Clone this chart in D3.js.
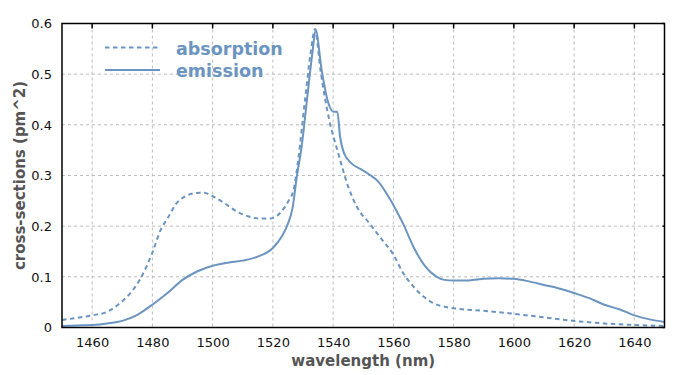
<!DOCTYPE html>
<html>
<head>
<meta charset="utf-8">
<script src="https://cdn.jsdelivr.net/npm/d3@7"></script>
<style>
  body { margin: 0; background: #fff; }
  svg { display: block; font-family: "DejaVu Sans", Verdana, sans-serif; }
</style>
</head>
<body>
<svg width="700" height="375"></svg>
<script>
// absorption cross-section (dashed)
const absWl = [1450, 1455, 1460, 1465, 1470, 1473, 1476, 1480, 1483, 1485, 1488, 1491, 1494, 1497, 1500,
  1504, 1508, 1512, 1516, 1519, 1521, 1523, 1525, 1527, 1528.5, 1530.5, 1532.5, 1534, 1535.8, 1538.7,
  1541.7, 1545, 1548, 1552, 1556, 1560, 1563.3, 1566.6, 1570, 1573.3, 1577, 1580, 1590, 1600, 1610,
  1620, 1630, 1640, 1650];
const absVal = [0.015, 0.019, 0.024, 0.031, 0.052, 0.070, 0.096, 0.148, 0.196, 0.215, 0.245, 0.259, 0.265, 0.266, 0.259,
  0.245, 0.229, 0.219, 0.215, 0.215, 0.219, 0.230, 0.248, 0.275, 0.335, 0.44, 0.54, 0.589, 0.508, 0.41,
  0.344, 0.278, 0.237, 0.206, 0.175, 0.144, 0.107, 0.081, 0.061, 0.048, 0.041, 0.038, 0.033, 0.027, 0.020,
  0.013, 0.008, 0.005, 0.003];

// emission cross-section (solid)
const emWl = [1450, 1455, 1460, 1465, 1470, 1475, 1480, 1485, 1490, 1495, 1500, 1505, 1510, 1515, 1520,
  1523, 1525, 1526.5, 1528, 1529.5, 1531.2, 1533.1, 1534.2, 1536.2, 1538.4, 1540.1, 1541.4, 1542.3, 1543.6,
  1546.1, 1549, 1552, 1555, 1558, 1560, 1563.3, 1566.6, 1570.5, 1574.4, 1577, 1580, 1585, 1590, 1595,
  1600, 1605, 1610, 1615, 1620, 1625, 1630, 1635, 1640, 1645, 1650];
const emVal = [0.003, 0.004, 0.005, 0.008, 0.013, 0.025, 0.045, 0.068, 0.094, 0.111, 0.122, 0.128, 0.132, 0.140, 0.157,
  0.180, 0.205, 0.235, 0.30, 0.355, 0.443, 0.541, 0.587, 0.508, 0.443, 0.426, 0.426, 0.377, 0.344,
  0.324, 0.313, 0.302, 0.288, 0.262, 0.242, 0.204, 0.16, 0.121, 0.100, 0.094, 0.093, 0.093, 0.096, 0.097,
  0.096, 0.091, 0.084, 0.077, 0.068, 0.058, 0.045, 0.036, 0.024, 0.016, 0.011];

const xTicks = [1460, 1480, 1500, 1520, 1540, 1560, 1580, 1600, 1620, 1640];
const yTicks = [0, 0.1, 0.2, 0.3, 0.4, 0.5, 0.6];
const legendLabels = ['absorption', 'emission'];

function draw() {
  const svg = d3.select('svg');
  const margin = { top: 23.5, right: 35.5, bottom: 47.5, left: 62 };
  const width = 700 - margin.left - margin.right;
  const height = 375 - margin.top - margin.bottom;
  const blue = '#6b95c0';

  const x = d3.scaleLinear().domain([1450, 1650]).range([0, width]);
  const y = d3.scaleLinear().domain([0, 0.6]).range([height, 0]);

  const g = svg.append('g').attr('transform', `translate(${margin.left},${margin.top})`);

  // grid
  g.append('g')
    .selectAll('line')
    .data(xTicks)
    .join('line')
    .attr('x1', d => x(d)).attr('x2', d => x(d))
    .attr('y1', 0).attr('y2', height)
    .attr('stroke', '#bdbdbd')
    .attr('stroke-dasharray', '3,3');
  g.append('g')
    .selectAll('line')
    .data(yTicks.filter(d => d > 0 && d < 0.6))
    .join('line')
    .attr('x1', 0).attr('x2', width)
    .attr('y1', d => y(d)).attr('y2', d => y(d))
    .attr('stroke', '#bdbdbd')
    .attr('stroke-dasharray', '3,3');

  // curves
  const line = d3.line()
    .x(d => x(d[0]))
    .y(d => y(d[1]))
    .curve(d3.curveMonotoneX);

  g.append('path')
    .datum(absWl.map((w, i) => [w, absVal[i]]))
    .attr('d', line)
    .attr('fill', 'none')
    .attr('stroke', blue)
    .attr('stroke-width', 2)
    .attr('stroke-dasharray', '4.5,3.5');

  g.append('path')
    .datum(emWl.map((w, i) => [w, emVal[i]]))
    .attr('d', line)
    .attr('fill', 'none')
    .attr('stroke', blue)
    .attr('stroke-width', 2);

  // axes
  const xAxis = g.append('g')
    .attr('transform', `translate(0,${height})`)
    .call(d3.axisBottom(x).tickValues(xTicks).tickSize(0).tickPadding(10).tickFormat(d3.format('d')));
  xAxis.select('.domain').remove();
  xAxis.selectAll('text').attr('font-size', 13).attr('fill', '#111').attr('font-family', '"DejaVu Sans", sans-serif');

  const yAxis = g.append('g')
    .call(d3.axisLeft(y).tickValues(yTicks).tickSize(0).tickPadding(10)
      .tickFormat(d => d === 0 ? '0' : d3.format('.1f')(d)));
  yAxis.select('.domain').remove();
  yAxis.selectAll('text').attr('font-size', 13).attr('fill', '#111').attr('font-family', '"DejaVu Sans", sans-serif');

  // inward ticks on the frame
  g.append('g').selectAll('line').data(xTicks).join('line')
    .attr('x1', d => x(d)).attr('x2', d => x(d))
    .attr('y1', 0).attr('y2', 5)
    .attr('stroke', '#000').attr('stroke-width', 1.5);
  g.append('g').selectAll('line').data(yTicks).join('line')
    .attr('x1', width - 2).attr('x2', width)
    .attr('y1', d => y(d)).attr('y2', d => y(d))
    .attr('stroke', '#000').attr('stroke-width', 1.5);

  // frame
  g.append('rect')
    .attr('width', width).attr('height', height)
    .attr('fill', 'none')
    .attr('stroke', '#000')
    .attr('stroke-width', 1.5);

  // axis titles
  svg.append('text')
    .attr('x', margin.left + width / 2)
    .attr('y', 366)
    .attr('text-anchor', 'middle')
    .attr('font-size', 15)
    .attr('font-weight', 'bold')
    .attr('fill', '#555')
    .text('wavelength (nm)');

  svg.append('text')
    .attr('transform', `translate(25,${margin.top + height / 2}) rotate(-90)`)
    .attr('text-anchor', 'middle')
    .attr('font-size', 15)
    .attr('font-weight', 'bold')
    .attr('fill', '#555')
    .text('cross-sections (pm^2)');

  // legend
  const legend = svg.append('g');
  const dashes = ['4.5,3.5', null];
  const legY = [47.5, 70];
  legendLabels.forEach((label, i) => {
    legend.append('line')
      .attr('x1', 105).attr('x2', 160)
      .attr('y1', legY[i]).attr('y2', legY[i])
      .attr('stroke', blue)
      .attr('stroke-width', 2)
      .attr('stroke-dasharray', dashes[i]);
    legend.append('text')
      .attr('x', 176)
      .attr('y', legY[i] + 7)
      .attr('font-size', 17.5)
      .attr('font-weight', 'bold')
      .attr('fill', blue)
      .text(label);
  });
}

draw();
</script>
</body>
</html>
